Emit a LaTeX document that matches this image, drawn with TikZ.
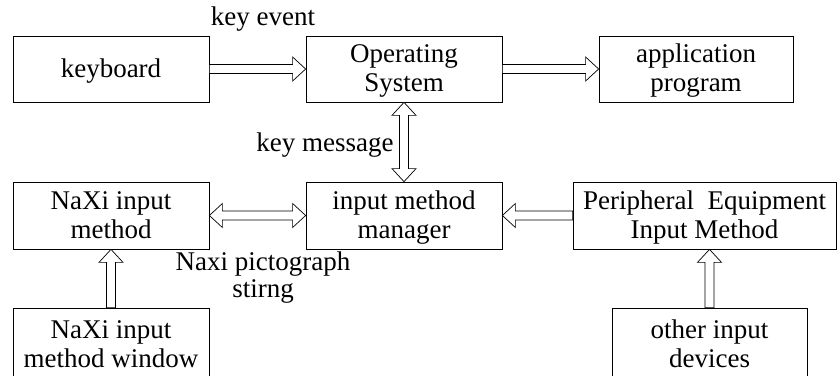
\documentclass[tikz,border=0pt]{standalone}
\usepackage{fontspec}
\setmainfont{Liberation Serif}
\usetikzlibrary{calc}
\def\sw{4.5pt}
\def\hw{12pt}
\def\hl{13pt}
\newcommand\st{\rule[-6pt]{0pt}{29pt}}
\newcommand\sarr[4]{%
\draw[blk] let \p1=(#1), \p2=(#2) in
 ({\x1-(#4)*\sw},{\y1+(#3)*\sw}) --
 ({\x2-(#3)*\hl-(#4)*\sw},{\y2-(#4)*\hl+(#3)*\sw}) --
 ({\x2-(#3)*\hl-(#4)*\hw},{\y2-(#4)*\hl+(#3)*\hw}) --
 (\p2) --
 ({\x2-(#3)*\hl+(#4)*\hw},{\y2-(#4)*\hl-(#3)*\hw}) --
 ({\x2-(#3)*\hl+(#4)*\sw},{\y2-(#4)*\hl-(#3)*\sw}) --
 ({\x1+(#4)*\sw},{\y1-(#3)*\sw}) -- cycle;}
\newcommand\darr[4]{%
\draw[blk] let \p1=(#1), \p2=(#2) in
 (\p1) --
 ({\x1+(#3)*\hl-(#4)*\hw},{\y1+(#4)*\hl+(#3)*\hw}) --
 ({\x1+(#3)*\hl-(#4)*\sw},{\y1+(#4)*\hl+(#3)*\sw}) --
 ({\x2-(#3)*\hl-(#4)*\sw},{\y2-(#4)*\hl+(#3)*\sw}) --
 ({\x2-(#3)*\hl-(#4)*\hw},{\y2-(#4)*\hl+(#3)*\hw}) --
 (\p2) --
 ({\x2-(#3)*\hl+(#4)*\hw},{\y2-(#4)*\hl-(#3)*\hw}) --
 ({\x2-(#3)*\hl+(#4)*\sw},{\y2-(#4)*\hl-(#3)*\sw}) --
 ({\x1+(#3)*\hl+(#4)*\sw},{\y1+(#4)*\hl-(#3)*\sw}) --
 ({\x1+(#3)*\hl+(#4)*\hw},{\y1+(#4)*\hl-(#3)*\hw}) -- cycle;}
\tikzset{
  box/.style={draw, line width=0.75pt, inner sep=0pt, align=center,
    font=\fontsize{27}{29}\selectfont},
  lbl/.style={inner sep=0pt, align=center, font=\fontsize{27}{27.5}\selectfont},
  blk/.style={draw, line width=0.7pt, fill=white}
}
\begin{document}
\begin{tikzpicture}[x=1pt,y=1pt]
\useasboundingbox (0,0) rectangle (837,375);
\fill[white] (0,0) rectangle (837,375);
\clip (0,0) rectangle (837,375);
\node[box, minimum width=196pt, minimum height=66pt] (kb) at (111,306) {\st keyboard\st};
\node[box, minimum width=196pt, minimum height=66pt] (os) at (404,306) {\st Operating\\System\st};
\node[box, minimum width=194pt, minimum height=66pt] (app) at (696,306) {\st application\\program\st};
\node[box, minimum width=196pt, minimum height=67pt] (naxi) at (111,159.5) {\st NaXi input\\method\st};
\node[box, minimum width=196pt, minimum height=67pt] (imm) at (404,159.5) {\st input method\\manager\st};
\node[box, minimum width=263pt, minimum height=67pt] (per) at (704.5,159.5) {\st Peripheral\ \ Equipment\\Input Method\st};
\node[box, minimum width=196pt, minimum height=72pt] (win) at (111,31) {\st NaXi input\\method window\st};
\node[box, minimum width=195pt, minimum height=72pt] (oth) at (709.5,31) {\st other input\\devices\st};
\coordinate (pertgt) at (oth.north |- per.south);
\sarr{kb.east}{os.west}{1}{0}
\sarr{os.east}{app.west}{1}{0}
\darr{os.south}{imm.north}{0}{-1}
\darr{naxi.east}{imm.west}{1}{0}
\sarr{per.west}{imm.east}{-1}{0}
\sarr{win.north}{naxi.south}{0}{1}
\sarr{oth.north}{pertgt}{0}{1}
\node[lbl, anchor=base] (ke) at (263,349) {key event};
\node[lbl, anchor=base] (km) at (325,223) {key message};
\node[lbl, anchor=north] (ns) at (263,123.5) {Naxi pictograph\\stirng};
\end{tikzpicture}
\end{document}
